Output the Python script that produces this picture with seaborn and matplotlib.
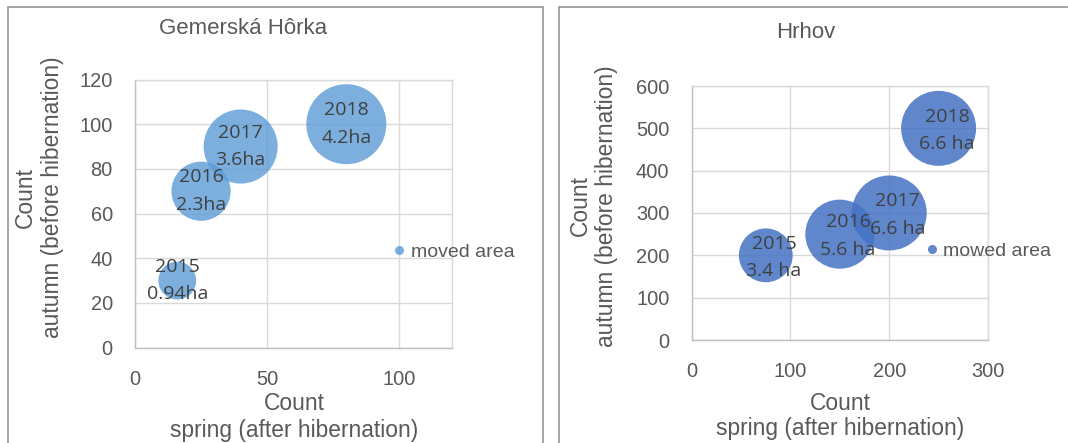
import numpy as np
import pandas as pd
import matplotlib
matplotlib.use("Agg")
import matplotlib.pyplot as plt
from matplotlib.patches import Rectangle
from matplotlib.lines import Line2D
import seaborn as sns

# Gemerská Hôrka
gh_years = ["2015", "2016", "2017", "2018"]
gh_spring = [16, 25, 40, 80]
gh_autumn = [30, 70, 90, 100]
gh_area = [0.94, 2.3, 3.6, 4.2]
gh_area_labels = ["0.94ha", "2.3ha", "3.6ha", "4.2ha"]

# Hrhov
hr_years = ["2015", "2016", "2017", "2018"]
hr_spring = [75, 150, 200, 250]
hr_autumn = [200, 250, 300, 500]
hr_area = [3.4, 5.6, 6.6, 6.6]
hr_area_labels = ["3.4 ha", "5.6 ha", "6.6 ha", "6.6 ha"]

sns.set_theme(style="white")
plt.rcParams["font.family"] = ["Liberation Sans", "DejaVu Sans"]

W, H = 1068, 443
fig = plt.figure(figsize=(W / 100, H / 100), dpi=100)

TXT = "#595959"
LBL = "#404040"
GRID = "#D9D9D9"


def px_box(x0, y0, x1, y1):
    return [x0 / W, 1 - y1 / H, (x1 - x0) / W, (y1 - y0) / H]


def panel(box, years, xs, ys, areas, labels, color, alpha, smax, xlim, xticks,
          ylim, yticks, legend_text, leg_anchor, lab_off):
    ax = fig.add_axes(box)
    df = pd.DataFrame({"spring": xs, "autumn": ys, "area": areas})
    sns.scatterplot(data=df, x="spring", y="autumn", size="area",
                    sizes=(0, smax), size_norm=(0, max(areas)),
                    color=color, alpha=alpha, linewidth=0, legend=False,
                    ax=ax, zorder=3)
    ax.set_xlim(*xlim)
    ax.set_ylim(*ylim)
    ax.set_xticks(xticks)
    ax.set_yticks(yticks)
    ax.grid(True, color=GRID, lw=1.0, zorder=0)
    ax.set_axisbelow(True)
    for name, sp in ax.spines.items():
        sp.set_color("#BFBFBF" if name in ("left", "bottom") else GRID)
        sp.set_linewidth(1.0)
    ax.tick_params(length=0, pad=16, labelsize=14.4, labelcolor=TXT)
    ax.set_xlabel("")
    ax.set_ylabel("")
    for x, y, yr, lab in zip(xs, ys, years, labels):
        ax.annotate(yr, (x, y), xytext=(lab_off[0], lab_off[1] + 10),
                    textcoords="offset points", ha="center", va="center",
                    fontsize=14, color=LBL, family=["Open Sans", "DejaVu Sans"],
                    zorder=5)
        ax.annotate(lab, (x, y), xytext=(lab_off[0], lab_off[1] - 10),
                    textcoords="offset points", ha="center", va="center",
                    fontsize=14, color=LBL, family=["Open Sans", "DejaVu Sans"],
                    zorder=5)
    handle = Line2D([], [], ls="none", marker="o", markersize=6.5,
                    markerfacecolor=color, markeredgewidth=0, alpha=alpha)
    ax.legend([handle], [legend_text], loc="center left",
              bbox_to_anchor=leg_anchor, frameon=False, borderpad=0,
              borderaxespad=0, handlelength=0.6, handletextpad=0.3,
              fontsize=14, labelcolor=TXT)
    return ax


panel(px_box(135, 79.5, 452, 347.6), gh_years, gh_spring, gh_autumn, gh_area,
      gh_area_labels, "#5B9BD5", 0.8, 3318, (0, 120), [0, 50, 100],
      (0, 120), np.arange(0, 121, 20), "moved area", (0.814, 0.357), (0, 0))

panel(px_box(691.7, 86, 988, 340), hr_years, hr_spring, hr_autumn, hr_area,
      hr_area_labels, "#4472C4", 0.85, 2916, (0, 300), [0, 100, 200, 300],
      (0, 600), np.arange(0, 601, 100), "mowed area", (0.790, 0.350), (6, -1.5))

# titles
fig.text(243 / W, 1 - 28 / H, "Gemerská Hôrka", ha="center", va="center",
         fontsize=16, color=TXT)
fig.text(806 / W, 1 - 32 / H, "Hrhov", ha="center", va="center",
         fontsize=16, color=TXT)

# axis titles
for (cx, y1, y2) in [(294, 404, 430), (840, 403, 429)]:
    fig.text(cx / W, 1 - y1 / H, "Count", ha="center", va="center",
             fontsize=16.4, color=TXT)
    fig.text(cx / W, 1 - y2 / H, "spring (after hibernation)", ha="center",
             va="center", fontsize=16.4, color=TXT)
for (x1, x2, cy) in [(25, 53, 197.5), (580, 607, 206)]:
    fig.text(x1 / W, 1 - cy / H, "Count", ha="center", va="center",
             rotation=90, fontsize=16.4, color=TXT)
    fig.text(x2 / W, 1 - cy / H, "autumn (before hibernation)", ha="center",
             va="center", rotation=90, fontsize=16.4, color=TXT)

# chart frames
for (x0, x1) in [(8.3, 542.7), (559, 1090)]:
    fig.patches.append(Rectangle((x0 / W, -0.1), (x1 - x0) / W,
                                 1.1 - 7.3 / H, transform=fig.transFigure,
                                 fill=False, edgecolor="#8C8C8C", lw=1.1))

fig.savefig("out.png", dpi=100, facecolor="white")
